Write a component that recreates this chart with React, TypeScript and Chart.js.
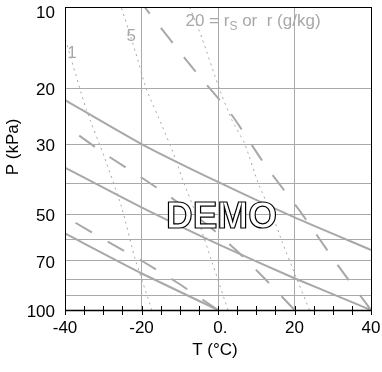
import React, { useEffect, useRef } from "react";
import { Chart, registerables } from "chart.js";

Chart.register(...registerables);

// ---- axes ----
const T_MIN = -40;
const T_MAX = 40;
const P_TOP = 11.1;
const P_BOTTOM = 100;

const xMinorTicks = [-40, -35, -30, -25, -20, -15, -10, -5, 0, 5, 10, 15, 20, 25, 30, 35, 40];
const xGridValues = [-20, 0, 20];
const xTickValues = [-40, -20, 0, 20, 40];
const xTickLabels = ["-40", "-20", "0.", "20", "40"];
const yGridValues = [20, 30, 40, 50, 60, 70, 80, 90];
const yTickValues = [10, 20, 30, 50, 70, 100];
const yTickLabels = ["10", "20", "30", "50", "70", "100"];

// ---- dry adiabats (solid), [T °C, P kPa] ----
const dryAdiabatHot: [number, number][] = [[40, 64.7], [20, 51.1], [0, 39.5], [-20, 30.0], [-40, 21.8]];
const dryAdiabatWarm: [number, number][] = [[40, 100], [20, 79.4], [0, 62.0], [-20, 47.5], [-40, 35.6]];
const dryAdiabatCold: [number, number][] = [[0, 100], [-20, 76.6], [-40, 57.4]];

// ---- moist adiabats (dashed), [T °C, P kPa] ----
const moistAdiabatHot: [number, number][] = [[40, 100], [30.9, 71.1], [21.8, 49.5], [12.3, 34.9], [3.6, 24.3], [-6.6, 17.3], [-19.2, 11.1]];
const moistAdiabatWarm: [number, number][] = [[20, 100], [11.8, 78.7], [4.7, 64.7], [-2.4, 54.4], [-12.4, 44.1], [-20.2, 38.1], [-29.1, 32.5], [-37.6, 27.5], [-40, 26.3]];
const moistAdiabatCold: [number, number][] = [[0, 100], [-10.5, 82.2], [-19.4, 70.6], [-28.6, 61.1], [-37.6, 52.8], [-40, 50.6]];

// ---- mixing-ratio lines (dotted), [T °C, P kPa] ----
const mixingRatio1: [number, number][] = [[-17.3, 100], [-21.8, 68.1], [-25.2, 47.4], [-29.7, 33.0], [-34.4, 23.4], [-40, 13.9]];
const mixingRatio5: [number, number][] = [[2.6, 100], [-1.3, 72.1], [-5.5, 50.9], [-9.2, 38.9], [-11.8, 31.8], [-14.5, 26.5], [-18.8, 20.0], [-21.5, 15.5], [-25.3, 11.1]];
const mixingRatio20: [number, number][] = [[23.9, 100], [20.2, 77.6], [16.8, 61.1], [14.4, 50.9], [10.5, 39.8], [7.0, 30.0], [3.5, 25.0], [0.3, 20.0], [-4.2, 13.9], [-7.4, 11.1]];

// label anchors [T °C, P kPa]
const label1Pos: [number, number] = [-38.2, 15.5];
const label5Pos: [number, number] = [-22.7, 13.75];
const label20Pos: [number, number] = [-8.5, 12.74];
const demoPos: [number, number] = [0.9, 50];

const GRAY = "#a8a8a8";
const GRID = "#aaaaaa";
const FONT = "'Liberation Sans', Arial, Helvetica, sans-serif";

const toXY = (arr: [number, number][]) => arr.map(([t, p]) => ({ x: t, y: p }));

const solid = (d: [number, number][]) => ({
  data: toXY(d),
  borderColor: GRAY,
  borderWidth: 2,
  pointRadius: 0,
  fill: false,
  tension: 0.2,
});
const dashed = (d: [number, number][]) => ({
  data: toXY(d),
  borderColor: GRAY,
  borderWidth: 2,
  borderDash: [19, 18],
  pointRadius: 0,
  fill: false,
  tension: 0.2,
});
const dotted = (d: [number, number][]) => ({
  data: toXY(d),
  borderColor: GRAY,
  borderWidth: 1,
  borderDash: [2, 4],
  pointRadius: 0,
  fill: false,
  tension: 0.2,
});

const overlay = {
  id: "overlay",
  afterDraw(chart: any) {
    const ctx: CanvasRenderingContext2D = chart.ctx;
    const { left, right, top, bottom } = chart.chartArea;
    const xs = chart.scales.x;
    const ys = chart.scales.y;
    ctx.save();

    // frame
    ctx.strokeStyle = "#000";
    ctx.lineWidth = 1;
    ctx.strokeRect(Math.round(left) + 0.5, Math.round(top) + 0.5, Math.round(right) - Math.round(left), Math.round(bottom) - Math.round(top));
    ctx.lineWidth = 1.5;
    ctx.beginPath();
    ctx.moveTo(left, Math.round(bottom) + 0.5);
    ctx.lineTo(right + 1, Math.round(bottom) + 0.5);
    ctx.stroke();

    // x tick marks (crossing the axis)
    ctx.lineWidth = 1;
    ctx.beginPath();
    for (const v of xMinorTicks) {
      const px = Math.round(xs.getPixelForValue(v)) + 0.5;
      ctx.moveTo(px, bottom - 4);
      ctx.lineTo(px, bottom + 5);
    }
    ctx.stroke();

    // tick labels
    ctx.fillStyle = "#000";
    ctx.font = `17px ${FONT}`;
    ctx.textBaseline = "middle";
    xTickValues.forEach((v, i) => {
      const txt = xTickLabels[i];
      let px = xs.getPixelForValue(v);
      if (txt.endsWith(".")) {
        ctx.textAlign = "left";
        px -= ctx.measureText(txt.slice(0, -1)).width / 2;
        ctx.fillText(txt, px, bottom + 18);
      } else {
        ctx.textAlign = "center";
        ctx.fillText(txt, px, bottom + 18);
      }
    });
    ctx.textAlign = "right";
    yTickValues.forEach((v, i) => {
      let py = ys.getPixelForValue(Math.max(v, ys.min));
      py = Math.max(py, top + 4) + 2;
      ctx.fillText(yTickLabels[i], left - 10, py);
    });

    // axis titles
    ctx.textAlign = "center";
    ctx.fillText("T (°C)", 215, bottom + 40);
    ctx.save();
    ctx.translate(13, 147);
    ctx.rotate(-Math.PI / 2);
    ctx.fillText("P (kPa)", 0, 0);
    ctx.restore();

    // mixing-ratio labels
    ctx.fillStyle = GRAY;
    ctx.font = `17px ${FONT}`;
    ctx.textAlign = "center";
    ctx.fillText("1", xs.getPixelForValue(label1Pos[0]), ys.getPixelForValue(label1Pos[1]));
    ctx.fillText("5", xs.getPixelForValue(label5Pos[0]), ys.getPixelForValue(label5Pos[1]));
    ctx.textAlign = "left";
    ctx.textBaseline = "alphabetic";
    let lx = xs.getPixelForValue(label20Pos[0]);
    const ly = ys.getPixelForValue(label20Pos[1]);
    const part1 = "20 = r";
    ctx.fillText(part1, lx, ly);
    lx += ctx.measureText(part1).width;
    ctx.font = `12px ${FONT}`;
    ctx.fillText("S", lx, ly + 4);
    lx += ctx.measureText("S").width;
    ctx.font = `17px ${FONT}`;
    ctx.fillText(" or  r (g/kg)", lx, ly);

    // DEMO watermark
    ctx.font = `bold 37px ${FONT}`;
    ctx.textAlign = "center";
    ctx.textBaseline = "alphabetic";
    const dx = xs.getPixelForValue(demoPos[0]);
    const dy = ys.getPixelForValue(demoPos[1]) + 14;
    ctx.fillStyle = "#fff";
    ctx.fillText("DEMO", dx, dy);
    ctx.strokeStyle = "#000";
    ctx.lineWidth = 1.2;
    ctx.strokeText("DEMO", dx, dy);

    ctx.restore();
  },
};

export default function App() {
  const ref = useRef<HTMLCanvasElement>(null);
  useEffect(() => {
    document.body.style.margin = "0";
    const canvas = ref.current!;
    const chart = new Chart(canvas, {
      type: "line",
      data: {
        datasets: [
          solid(dryAdiabatHot),
          solid(dryAdiabatWarm),
          solid(dryAdiabatCold),
          dashed(moistAdiabatHot),
          dashed(moistAdiabatWarm),
          dashed(moistAdiabatCold),
          dotted(mixingRatio1),
          dotted(mixingRatio5),
          dotted(mixingRatio20),
        ] as any,
      },
      options: {
        responsive: false,
        animation: false,
        devicePixelRatio: 1,
        layout: { padding: { left: 65, right: 11, top: 7, bottom: 62 } },
        plugins: { legend: { display: false }, tooltip: { enabled: false } },
        scales: {
          x: {
            type: "linear",
            min: T_MIN,
            max: T_MAX,
            afterBuildTicks: (s: any) => {
              s.ticks = xGridValues.map((v) => ({ value: v }));
            },
            ticks: { display: false },
            grid: { color: GRID, lineWidth: 1, drawTicks: false },
            border: { display: false },
          },
          y: {
            type: "logarithmic",
            reverse: true,
            min: P_TOP,
            max: P_BOTTOM,
            afterBuildTicks: (s: any) => {
              s.ticks = yGridValues.map((v) => ({ value: v }));
            },
            ticks: { display: false },
            grid: { color: GRID, lineWidth: 1, drawTicks: false },
            border: { display: false },
          },
        },
      } as any,
      plugins: [overlay],
    });
    return () => chart.destroy();
  }, []);
  return <canvas ref={ref} width={382} height={372} style={{ display: "block", width: 382, height: 372 }} />;
}
